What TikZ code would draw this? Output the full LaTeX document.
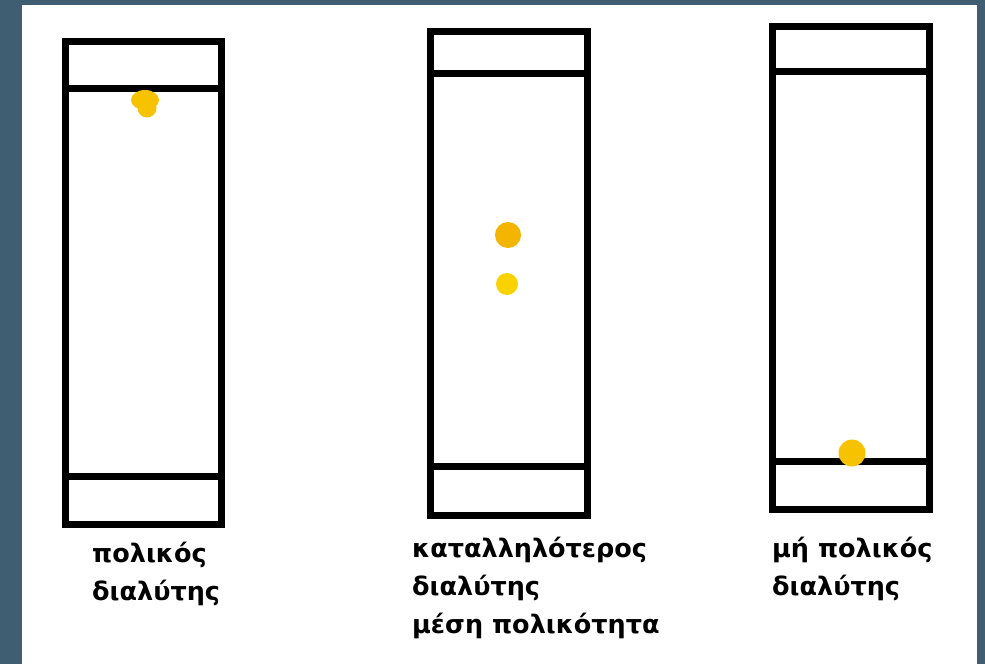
\documentclass[tikz,border=0pt]{standalone}
\usepackage{fontspec}
\newfontfamily\labelfont{DejaVu Sans}[BoldFont={DejaVu Sans Bold}]
\definecolor{frame}{HTML}{3F5E72}
\definecolor{spotA}{HTML}{F7C200}
\definecolor{spotB}{HTML}{F4B500}
\definecolor{spotC}{HTML}{FAD200}
\begin{document}
\begin{tikzpicture}[x=1pt,y=-1pt,
  strip/.style={draw=black,line width=7pt,fill=white},
  divider/.style={draw=black,line width=7pt},
  lbl/.style={inner sep=0pt,anchor=base west,align=left,
    font=\labelfont\bfseries\fontsize{25.5}{38}\selectfont}]
\fill[frame] (0,0) rectangle (985,664);
\fill[white] (22,5) rectangle (977,664);
\useasboundingbox (0,0) rectangle (985,664);
% left strip
\path[strip] (65.5,41.5) rectangle (221.5,524);
\draw[divider] (65.5,88) -- (221.5,88);
\draw[divider] (65.5,476.5) -- (221.5,476.5);
% centre strip
\path[strip] (430.5,31.5) rectangle (587.5,515);
\draw[divider] (430.5,73.5) -- (587.5,73.5);
\draw[divider] (430.5,466.5) -- (587.5,466.5);
% right strip
\path[strip] (772.5,26) rectangle (929.5,509.5);
\draw[divider] (772.5,71.5) -- (929.5,71.5);
\draw[divider] (772.5,461) -- (929.5,461);
% spots
\fill[spotA] (145,100) circle[x radius=14,y radius=10];
\fill[spotA] (147,108) circle[radius=9.5];
\fill[spotB] (508,235) circle[radius=13];
\fill[spotC] (507,284) circle[radius=11];
\fill[spotA] (852,453) circle[radius=13.5];
% labels
\node[lbl] (l1) at (92,600) {πολικός\\διαλύτης};
\node[lbl] (l2) at (412,633) {καταλληλότερος\\διαλύτης\\μέση πολικότητα};
\node[lbl] (l3) at (772,595) {μή πολικός\\διαλύτης};
\end{tikzpicture}
\end{document}
